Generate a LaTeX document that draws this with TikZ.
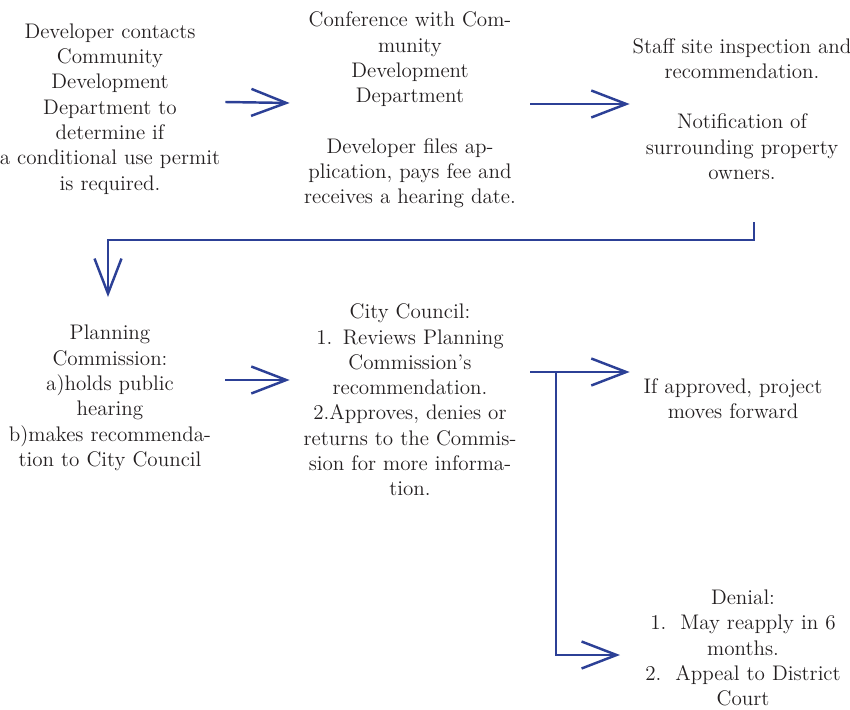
\documentclass[tikz,border=0pt]{standalone}
\usepackage{tikz}
\usetikzlibrary{positioning, arrows.meta, calc}

\definecolor{flowblue}{RGB}{44,64,150}
\definecolor{inkgray}{RGB}{35,31,32}

\begin{document}
\begin{tikzpicture}[
    x=0.02cm, y=-0.02cm,
    font=\fontsize{12}{14.4}\selectfont,
    every node/.style={align=center},
    stage/.style={inner sep=0pt, text=inkgray},
    flow/.style={
        draw=flowblue,
        line width=1.4pt,
        -{Straight Barb[length=0.7cm, width=0.54cm, line width=1.4pt]}
    },
    joint/.style={draw=flowblue, line width=1.4pt}
]

\useasboundingbox (0,0) rectangle (850,710);

% =================================================
% UPPER ROW: APPLICATION
% =================================================

\node[
    stage,
    text width=4.6cm
] (contact) at (110,109)
{Developer contacts\\
Community\\
Development\\
Department to\\
determine if\\
a conditional use permit\\
is required.};

\node[
    stage,
    text width=4.8cm
] (conference) at (410,110)
{Conference with Com-\\
munity\\
Development\\
Department\\[\baselineskip]
Developer files ap-\\
plication, pays fee and\\
receives a hearing date.};

\node[
    stage,
    text width=4.48cm
] (inspection) at (742,109)
{Staff site inspection and\\
recommendation.\\[\baselineskip]
Notification of\\
surrounding property\\
owners.};

\draw[flow] ($(contact.east)+(0,-7)$) -- ($(conference.west)+(0,-7)$);
\draw[flow] ($(conference.east)+(0,-6)$) -- ($(inspection.west)+(0,-5)$);

% =================================================
% LOWER ROW: HEARINGS AND DECISION
% =================================================

\node[
    stage,
    text width=4.6cm
] (planning) at (110,398)
{Planning\\
Commission:\\
a)holds public\\
hearing\\
b)makes recommenda-\\
tion to City Council};

\node[
    stage,
    text width=4.8cm
] (council) at (410,400)
{City Council:\\
1. Reviews Planning\\
Commission's\\
recommendation.\\
2.Approves, denies or\\
returns to the Commis-\\
sion for more informa-\\
tion.};

\node[
    stage,
    text width=4.12cm
] (approved) at (733,399)
{If approved, project\\
moves forward};

\node[
    stage,
    text width=4.2cm
] (denial) at (743,648)
{Denial:\\
1.\ \ May reapply in 6\\
months.\\
2.\ \ Appeal to District\\
Court};

% Return line from the upper row
\coordinate (turn) at (754,222);
\coordinate (drop) at (108,297);
\draw[flow] (turn) -- ++(0,18) -| (drop);

\draw[flow] ($(planning.east)+(0,-18)$) -- ($(council.west)+(0,-20)$);

% Decision fork
\coordinate (fork) at (556,372);
\coordinate (deny) at (620,655);
\draw[flow] (fork -| council.east) -- (fork -| approved.west);
\draw[joint] (fork) |- ($(deny)+(-40,0)$);
\draw[flow] ($(deny)+(-40,0)$) -- (deny);

\end{tikzpicture}
\end{document}
